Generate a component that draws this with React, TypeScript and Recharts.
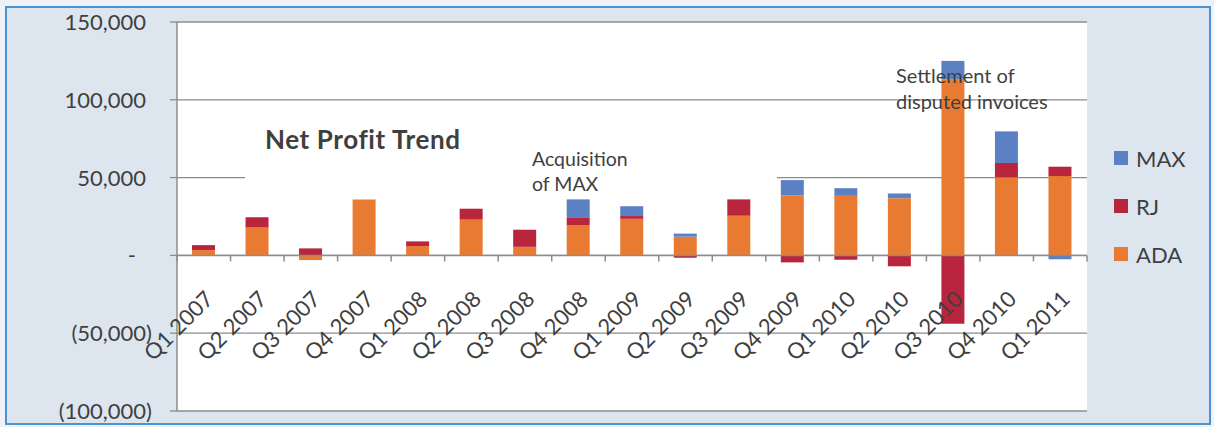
import { BarChart, Bar, XAxis, YAxis, CartesianGrid, Legend, ReferenceLine } from "recharts";

const quarters = [
  "Q1 2007", "Q2 2007", "Q3 2007", "Q4 2007",
  "Q1 2008", "Q2 2008", "Q3 2008", "Q4 2008",
  "Q1 2009", "Q2 2009", "Q3 2009", "Q4 2009",
  "Q1 2010", "Q2 2010", "Q3 2010", "Q4 2010",
  "Q1 2011",
];
const adaValues = [3400, 18000, -3000, 36000, 6000, 23000, 5500, 19500, 23500, 12000, 25500, 38700, 38300, 36800, 113000, 50200, 51000];
const rjValues = [3200, 6500, 4500, 0, 3000, 7000, 11000, 5000, 1800, -1500, 10500, -4500, -2800, -7000, -44000, 9200, 6000];
const maxValues = [0, 0, 0, 0, 0, 0, 0, 11500, 6300, 2000, 0, 9700, 4900, 3000, 12000, 20300, -2500];
const yTicks = [-100000, -50000, 0, 50000, 100000, 150000];

const Y_MIN = -100000;
const Y_MAX = 150000;

const COLORS = { ADA: "#e97a31", RJ: "#b9253d", MAX: "#5b80c3" };
const TEXT = "#3f3f3f";
const GRID = "#8c8c8c";
const FONT = "Lato, 'Liberation Sans', sans-serif";

const W = 1214;
const H = 427;
const MARGIN = { top: 22, right: 27, bottom: 15, left: 0 };
const X_AXIS_H = 1;
const PLOT_H = H - MARGIN.top - MARGIN.bottom - X_AXIS_H;
const ZERO_Y = MARGIN.top + (PLOT_H * Y_MAX) / (Y_MAX - Y_MIN);
const BAND = (W - 177 - MARGIN.right - 100) / quarters.length;

const rows = quarters.map((q, i) => ({
  name: q,
  ADA: adaValues[i],
  RJ: rjValues[i],
  MAX: maxValues[i],
}));

function fmt(v: number): string {
  if (v === 0) return "-";
  const s = Math.abs(v).toLocaleString("en-US");
  return v < 0 ? `(${s})` : s;
}

function YTick(props: any) {
  const { y, payload } = props;
  const v = payload.value as number;
  const x = v === 0 ? 136 : v < 0 ? 152 : 146;
  return (
    <text x={x} y={y + 8} textAnchor="end" fontSize={22} fill={TEXT} fontFamily={FONT}>
      {fmt(v)}
    </text>
  );
}

function XTick(props: any) {
  const { x, payload, index } = props;
  const tx = x + 11;
  const ty = ZERO_Y + 45;
  return (
    <g>
      <line x1={x - BAND / 2} x2={x - BAND / 2} y1={ZERO_Y} y2={ZERO_Y + 6} stroke={GRID} strokeWidth={1.5} />
      {index === quarters.length - 1 && (
        <line x1={x + BAND / 2} x2={x + BAND / 2} y1={ZERO_Y} y2={ZERO_Y + 6} stroke={GRID} strokeWidth={1.5} />
      )}
      <text
        x={tx}
        y={ty}
        textAnchor="end"
        fontSize={22}
        fill={TEXT}
        fontFamily={FONT}
        transform={`rotate(-45 ${tx} ${ty})`}
      >
        {payload.value}
      </text>
    </g>
  );
}

function LegendBox() {
  const items: Array<keyof typeof COLORS> = ["MAX", "RJ", "ADA"];
  return (
    <div style={{ paddingTop: 9, paddingLeft: 27, fontFamily: FONT }}>
      {items.map((k) => (
        <div key={k} style={{ display: "flex", alignItems: "center", height: 24, marginBottom: 24 }}>
          <span style={{ width: 14, height: 14, background: COLORS[k], display: "inline-block", marginRight: 8 }} />
          <span style={{ fontSize: 22, color: TEXT }}>{k}</span>
        </div>
      ))}
    </div>
  );
}

export default function App() {
  return (
    <div style={{ position: "absolute", left: 0, top: 0, width: W, height: H, background: "#eef2f6" }}>
      <div
        style={{
          position: "absolute",
          left: 5,
          top: 6,
          width: W - 12,
          height: H - 12,
          background: "#dde6ef",
          border: "2px solid #4a92d2",
        }}
      />
      <div style={{ position: "absolute", left: 0, top: 0 }}>
        <BarChart width={W} height={H} data={rows} margin={MARGIN} stackOffset="sign" barSize={23}>
          <CartesianGrid vertical={false} stroke={GRID} strokeWidth={1.3} fill="#ffffff" fillOpacity={1} />
          <XAxis dataKey="name" height={X_AXIS_H} axisLine={false} tickLine={false} interval={0} tick={<XTick />} />
          <YAxis
            width={177}
            domain={[Y_MIN, Y_MAX]}
            ticks={yTicks}
            interval={0}
            axisLine={{ stroke: GRID, strokeWidth: 1.5 }}
            tickLine={{ stroke: GRID, strokeWidth: 1.3 }}
            tickSize={7}
            tick={<YTick />}
          />
          <ReferenceLine y={0} stroke={GRID} strokeWidth={1.5} />
          <Legend layout="vertical" align="right" verticalAlign="middle" width={100} content={<LegendBox />} />
          <Bar dataKey="ADA" stackId="a" fill={COLORS.ADA} isAnimationActive={false} />
          <Bar dataKey="RJ" stackId="a" fill={COLORS.RJ} isAnimationActive={false} />
          <Bar dataKey="MAX" stackId="a" fill={COLORS.MAX} isAnimationActive={false} />
        </BarChart>
      </div>
      <div style={{ position: "absolute", left: 245, top: 104, width: 532, height: 86, background: "#ffffff" }} />
      <div style={{ position: "absolute", left: 265, top: 124, fontFamily: FONT, fontSize: 26, fontWeight: 700, color: TEXT, lineHeight: 1.2, letterSpacing: 0.6 }}>
        Net Profit Trend
      </div>
      <div style={{ position: "absolute", left: 532, top: 146, fontFamily: FONT, fontSize: 19.5, color: TEXT, lineHeight: "25px" }}>
        Acquisition
        <br />
        of MAX
      </div>
      <div style={{ position: "absolute", left: 896, top: 62, fontFamily: FONT, fontSize: 20, color: TEXT, lineHeight: "26px" }}>
        Settlement of
        <br />
        disputed invoices
      </div>
    </div>
  );
}
